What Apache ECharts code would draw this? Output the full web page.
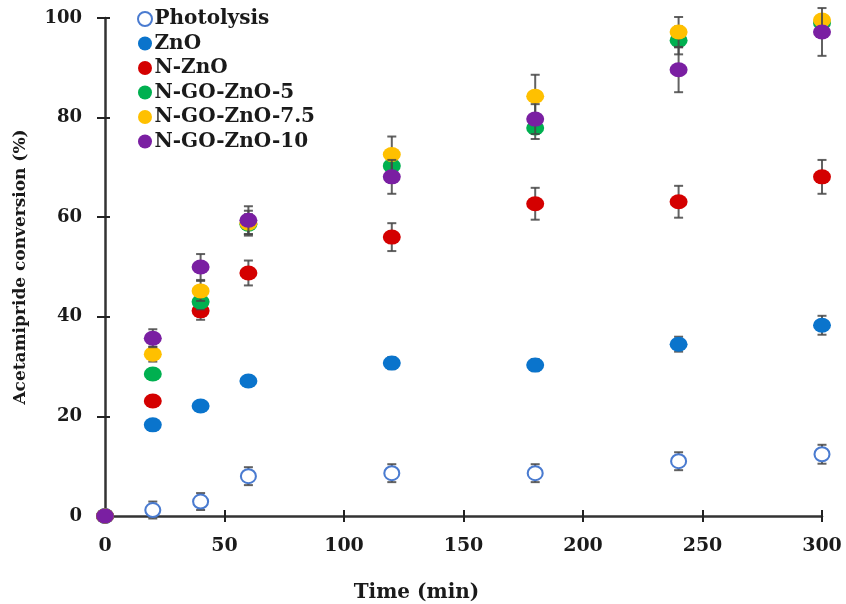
<!DOCTYPE html>
<html>
<head>
<meta charset="utf-8">
<script src="https://cdn.jsdelivr.net/npm/echarts@6/dist/echarts.min.js"></script>
<style>
  html, body { margin: 0; padding: 0; background: #fff; }
  #chart { width: 846px; height: 604px; }
</style>
</head>
<body>
<div id="chart"></div>
<script>
// Sampling times (min)
const times = [0, 20, 40, 60, 120, 180, 240, 300];

// Acetamipride conversion (%) per catalyst
const photolysis = [0, 1.2, 2.9, 8.0, 8.6, 8.6, 11.0, 12.4];
const zno        = [0, 18.3, 22.1, 27.1, 30.7, 30.3, 34.5, 38.3];
const nZno       = [0, 23.1, 41.2, 48.8, 56.0, 62.7, 63.1, 68.1];
const nGoZno5    = [0, 28.5, 43.0, 58.6, 70.3, 77.9, 95.5, 99.0];
const nGoZno75   = [0, 32.5, 45.2, 58.8, 72.6, 84.3, 97.2, 99.6];
const nGoZno10   = [0, 35.7, 50.0, 59.4, 68.1, 79.7, 89.6, 97.2];

// Standard deviations (±)
const photolysisErr = [0, 1.7, 1.7, 1.8, 1.8, 1.8, 1.8, 1.9];
const znoErr        = [0, 0.8, 0.8, 1.0, 1.2, 1.2, 1.5, 1.9];
const nZnoErr       = [0, 1.0, 1.8, 2.5, 2.8, 3.2, 3.2, 3.4];
const nGoZno5Err    = [0, 1.0, 1.5, 2.0, 2.0, 2.2, 2.8, 0.5];
const nGoZno75Err   = [0, 1.5, 2.0, 2.5, 3.6, 4.3, 3.0, 0.3];
const nGoZno10Err   = [0, 1.8, 2.6, 2.8, 3.4, 3.0, 4.5, 4.8];

// Axis ticks
const xTicks = { min: 0, max: 300, interval: 50 };
const yTicks = { min: 0, max: 100, interval: 20 };

const seriesDefs = [
  { name: 'Photolysis',    values: photolysis, err: photolysisErr, hollow: true,  color: '#4a7bd0' },
  { name: 'ZnO',           values: zno,        err: znoErr,        color: '#0a74cc' },
  { name: 'N-ZnO',         values: nZno,       err: nZnoErr,       color: '#d40000' },
  { name: 'N-GO-ZnO-5',    values: nGoZno5,    err: nGoZno5Err,    color: '#00b050' },
  { name: 'N-GO-ZnO-7.5',  values: nGoZno75,   err: nGoZno75Err,   color: '#ffc000' },
  { name: 'N-GO-ZnO-10',   values: nGoZno10,   err: nGoZno10Err,   color: '#7a1fa2' }
];

const FONT = '"DejaVu Serif", serif';
const INK = '#1a1a1a';

function errorBarItem(params, api) {
  const x = api.value(0), y = api.value(1), e = api.value(2);
  if (!e) return null;
  const hi = api.coord([x, y + e]);
  const lo = api.coord([x, y - e]);
  const cap = 4.5;
  const style = { stroke: 'rgba(70,70,70,0.85)', lineWidth: 2 };
  return {
    type: 'group',
    children: [
      { type: 'line', shape: { x1: hi[0], y1: hi[1], x2: lo[0], y2: lo[1] }, style },
      { type: 'line', shape: { x1: hi[0] - cap, y1: hi[1], x2: hi[0] + cap, y2: hi[1] }, style },
      { type: 'line', shape: { x1: lo[0] - cap, y1: lo[1], x2: lo[0] + cap, y2: lo[1] }, style }
    ]
  };
}

const series = [];
seriesDefs.forEach((s, i) => {
  series.push({
    type: 'custom',
    renderItem: errorBarItem,
    data: times.map((t, k) => [t, s.values[k], s.err[k]]),
    z: 2 + i * 2,
    silent: true
  });
  series.push({
    name: s.name,
    type: 'scatter',
    data: times.map((t, k) => [t, s.values[k]]),
    symbol: 'circle',
    symbolSize: s.hollow ? [15, 14] : [18, 15],
    itemStyle: s.hollow
      ? { color: '#ffffff', borderColor: s.color, borderWidth: 2, opacity: 1 }
      : { color: s.color, opacity: 1 },
    z: 3 + i * 2
  });
});

const chart = echarts.init(document.getElementById('chart'), null, { renderer: 'canvas' });
chart.setOption({
  animation: false,
  backgroundColor: '#ffffff',
  grid: { left: 105, right: 24, top: 18, bottom: 88, containLabel: false, outerBoundsMode: 'none' },
  legend: {
    data: seriesDefs.map(s => s.name),
    orient: 'vertical',
    left: 132,
    top: 4,
    itemWidth: 15,
    itemHeight: 14,
    itemGap: 4.5,
    icon: 'circle',
    textStyle: { fontFamily: FONT, fontWeight: 'bold', fontSize: 20, lineHeight: 20, color: INK, padding: [0, 0, 0, -3] }
  },
  xAxis: [{
    type: 'value',
    min: xTicks.min, max: xTicks.max, interval: xTicks.interval,
    name: 'Time (min)',
    nameLocation: 'middle',
    nameGap: 67,
    nameTextStyle: { fontFamily: FONT, fontWeight: 'bold', fontSize: 20, color: INK, padding: [0, 94, 0, 0] },
    axisLine: { lineStyle: { color: '#333', width: 2.5 } },
    axisTick: { show: true, length: 6, lineStyle: { color: '#222', width: 2 } },
    axisLabel: { fontFamily: FONT, fontWeight: 'bold', fontSize: 19, color: INK, margin: 21 },
    splitLine: { show: false }
  }, {
    type: 'value',
    position: 'bottom',
    min: xTicks.min, max: xTicks.max, interval: xTicks.interval,
    axisLine: { show: false },
    axisTick: { show: true, inside: true, length: 6, lineStyle: { color: '#222', width: 2 } },
    axisLabel: { show: false },
    splitLine: { show: false }
  }],
  yAxis: [{
    type: 'value',
    min: yTicks.min, max: yTicks.max, interval: yTicks.interval,
    name: 'Acetamipride conversion (%)',
    nameLocation: 'middle',
    nameGap: 76,
    nameTextStyle: { fontFamily: FONT, fontWeight: 'bold', fontSize: 17, color: INK },
    axisLine: { lineStyle: { color: '#333', width: 2.5 } },
    axisTick: { show: true, length: 8, lineStyle: { color: '#222', width: 2 } },
    axisLabel: { fontFamily: FONT, fontWeight: 'bold', fontSize: 18, color: INK, margin: 23 },
    splitLine: { show: false }
  }, {
    type: 'value',
    position: 'left',
    min: yTicks.min, max: yTicks.max, interval: yTicks.interval,
    axisLine: { show: false },
    axisTick: { show: true, inside: true, length: 5, lineStyle: { color: '#222', width: 2 } },
    axisLabel: { show: false },
    splitLine: { show: false }
  }],
  series: series
});
</script>
</body>
</html>
